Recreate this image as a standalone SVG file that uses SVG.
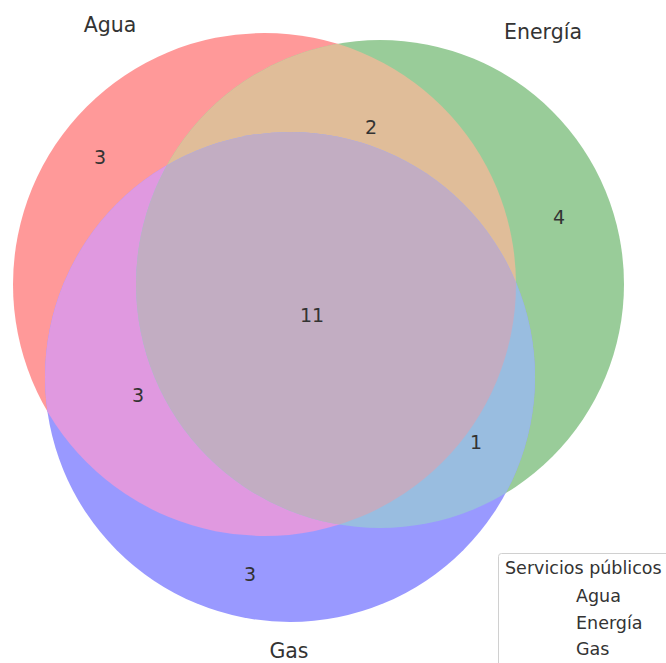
<svg xmlns="http://www.w3.org/2000/svg" width="666" height="663" viewBox="0 0 666 663">
<style>
text{font-family:"DejaVu Sans","Liberation Sans",sans-serif;fill:#333333}
.set{font-size:20.5px;text-anchor:middle}
.num{font-size:19px;text-anchor:middle}
.leg{font-size:17.5px}
</style>
<defs>
<clipPath id="clipA"><circle cx="264.5" cy="284.5" r="251.5"/></clipPath>
<clipPath id="clipB"><circle cx="380" cy="284" r="244"/></clipPath>
</defs>
<rect width="666" height="663" fill="#ffffff"/>
<g id="agua"><circle cx="264.5" cy="284.5" r="251.5" fill="#ff9999"/></g>
<g id="energia"><circle cx="380" cy="284" r="244" fill="#99cc99"/></g>
<g id="gas"><circle cx="290" cy="377" r="245" fill="#9999ff"/></g>
<g id="agua-energia"><circle cx="380" cy="284" r="244" fill="#e0bd99" clip-path="url(#clipA)"/></g>
<g id="agua-gas"><circle cx="290" cy="377" r="245" fill="#e099e0" clip-path="url(#clipA)"/></g>
<g id="energia-gas"><circle cx="290" cy="377" r="245" fill="#99bde0" clip-path="url(#clipB)"/></g>
<g id="agua-energia-gas" clip-path="url(#clipB)"><circle cx="290" cy="377" r="245" fill="#c2adc2" clip-path="url(#clipA)"/></g>
<g id="labels">
<text class="set" x="110" y="32">Agua</text>
<text class="set" x="543" y="39">Energía</text>
<text class="set" x="289" y="658">Gas</text>
</g>
<g id="counts">
<text class="num" x="100" y="164">3</text>
<text class="num" x="371" y="134">2</text>
<text class="num" x="559" y="224">4</text>
<text class="num" x="312" y="322">11</text>
<text class="num" x="138" y="402">3</text>
<text class="num" x="476" y="449">1</text>
<text class="num" x="250" y="581">3</text>
</g>
<g id="legend">
<rect x="498.5" y="553.5" width="180" height="130" rx="3" fill="#ffffff" fill-opacity="0.8" stroke="#d0d0d0" stroke-width="1"/>
<text class="leg" x="505" y="574">Servicios públicos</text>
<text class="leg" x="576" y="602">Agua</text>
<text class="leg" x="576" y="629">Energía</text>
<text class="leg" x="576" y="655">Gas</text>
</g>
</svg>
